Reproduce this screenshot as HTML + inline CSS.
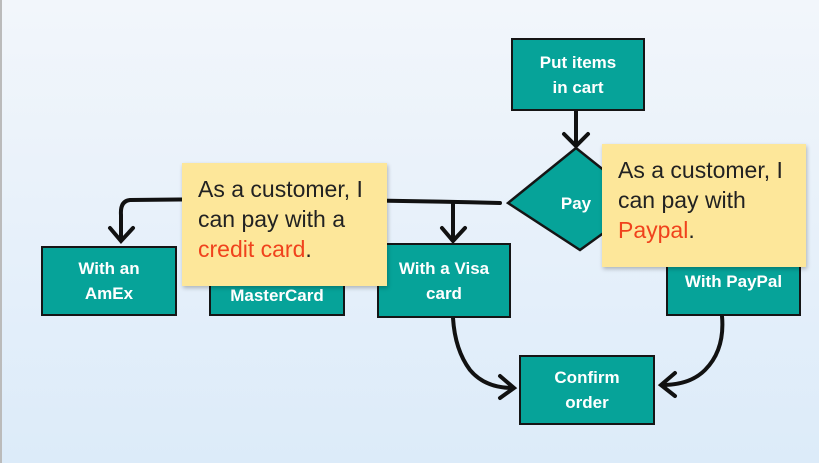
<!DOCTYPE html>
<html><head><style>
body{margin:0;width:819px;height:463px;overflow:hidden;background:linear-gradient(#f2f6fb,#dcebf9);font-family:"Liberation Sans",sans-serif;position:relative}
.b{position:absolute;background:#06a399;border:2.5px solid #151515;box-sizing:border-box;color:#fff;font-weight:bold;font-size:17px;display:flex;align-items:center;justify-content:center;text-align:center;line-height:25px}
.s{position:absolute;background:#fde79a;box-shadow:1px 2px 4px rgba(0,0,0,.25);font-size:23px;line-height:30px;color:#222;padding:10px 16px;box-sizing:border-box}
.s span{color:#f0421c}
</style></head><body>
<div style="position:absolute;left:0;top:0;width:2px;height:463px;background:#bbb"></div>
<svg width="819" height="463" style="position:absolute;left:0;top:0">
<g fill="none" stroke="#111" stroke-width="4" stroke-linecap="round">
<path d="M576 110 V146 M564 134 L576 146 L588 134"/>
<path d="M500 203 Q300 198 130 200 Q120 201 121 215 V240 M110 228 L121 241 L133 228"/>
<path d="M453 204 V240 M442 228 L453 241 L465 228"/>
<path d="M453 318 Q455 350 470 370 Q485 388 513 388 M500 376 L514 388 L500 398"/>
<path d="M722 316 Q725 350 705 370 Q690 385 662 385 M675 373 L661 385 L675 396"/>
</g>
<polygon points="576,148 645,203 580,250 508,203" fill="#06a399" stroke="#151515" stroke-width="2.5"/>
<text x="576" y="209" fill="#fff" font-weight="bold" font-size="17" text-anchor="middle" font-family="Liberation Sans">Pay</text>
</svg>
<div class="b" style="left:511px;top:38px;width:134px;height:73px">Put items<br>in cart</div>
<div class="b" style="left:41px;top:246px;width:136px;height:70px">With an<br>AmEx</div>
<div class="b" style="left:209px;top:246px;width:136px;height:70px;padding-top:28px">MasterCard</div>
<div class="b" style="left:377px;top:243px;width:134px;height:75px">With a Visa<br>card</div>
<div class="b" style="left:666px;top:258px;width:135px;height:58px;padding-bottom:12px">With PayPal</div>
<div class="b" style="left:519px;top:355px;width:136px;height:70px">Confirm<br>order</div>
<div class="s" style="left:182px;top:163px;width:205px;height:123px;padding-top:11px">As a customer, I can pay with a <span>credit card</span>.</div>
<div class="s" style="left:602px;top:144px;width:204px;height:123px;padding-top:11px">As a customer, I can pay with <span>Paypal</span>.</div>
</body></html>
